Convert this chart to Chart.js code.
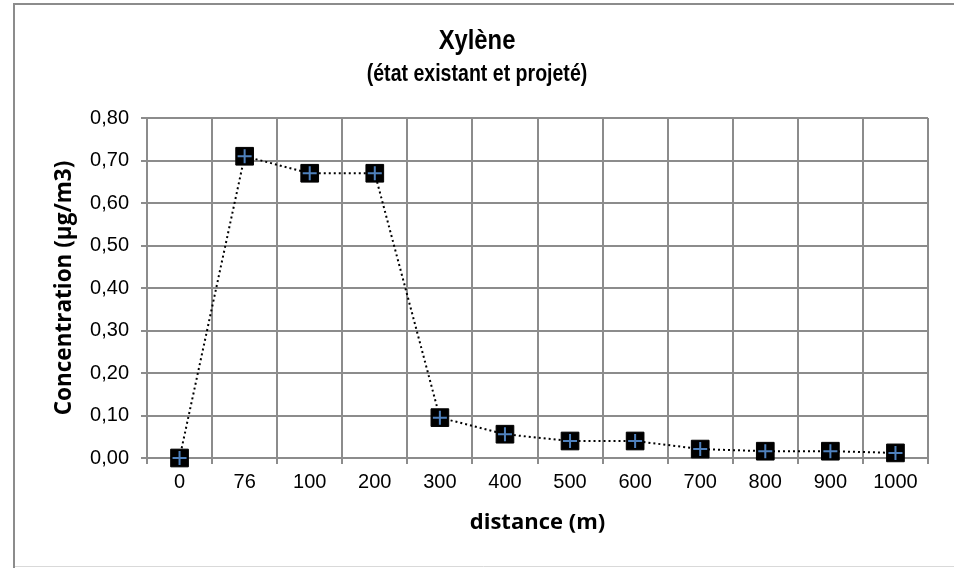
<!DOCTYPE html>
<html lang="fr">
<head>
<meta charset="utf-8">
<title>Xylène</title>
<script src="https://cdn.jsdelivr.net/npm/chart.js@4.4.1/dist/chart.umd.min.js"></script>
<style>
    html, body {
        margin: 0;
        padding: 0;
        background: #ffffff;
    }

    #wrap {
        width: 954px;
        height: 568px;
    }
</style>
</head>
<body>
<div id="wrap">
    <canvas id="xyleneChart" width="954" height="568"></canvas>
</div>

<script>

/* =========================
   DATA
========================= */

const distances = ['0', '76', '100', '200', '300', '400', '500', '600', '700', '800', '900', '1000'];

const concentrations = [0, 0.71, 0.67, 0.67, 0.095, 0.056, 0.04, 0.04, 0.021, 0.016, 0.016, 0.012];

const yTickLabels = ['0,00', '0,10', '0,20', '0,30', '0,40', '0,50', '0,60', '0,70', '0,80'];

const titleLines = ['Xylène', '(état existant et projeté)'];

const GRID_COLOR = '#8c8c8c';

/* =========================
   OUTER FRAME
========================= */

const framePlugin = {

    id: 'frame',

    beforeDraw(chart) {

        const ctx = chart.ctx;

        ctx.save();

        ctx.fillStyle = '#ffffff';
        ctx.fillRect(0, 0, chart.width, chart.height);

        ctx.strokeStyle = '#d9d9d9';
        ctx.lineWidth = 1;
        ctx.beginPath();
        ctx.moveTo(13, 566.5);
        ctx.lineTo(chart.width, 566.5);
        ctx.stroke();

        ctx.strokeStyle = GRID_COLOR;
        ctx.lineWidth = 2;
        ctx.beginPath();
        ctx.moveTo(14, chart.height);
        ctx.lineTo(14, 4);
        ctx.lineTo(chart.width, 4);
        ctx.stroke();

        ctx.restore();
    }
};

/* =========================
   NARROW TITLE (condensed look)
========================= */

const narrowTitlePlugin = {

    id: 'narrowTitle',

    afterDraw(chart) {

        const ctx = chart.ctx;
        const cx = chart.width / 2;

        const lines = [
            { text: titleLines[0], size: 28, y: 41 },
            { text: titleLines[1], size: 23, y: 75 }
        ];

        ctx.save();
        ctx.fillStyle = '#000000';
        ctx.textAlign = 'center';
        ctx.textBaseline = 'middle';

        lines.forEach(line => {
            ctx.save();
            ctx.translate(cx, line.y);
            ctx.scale(0.85, 1);
            ctx.font = `bold ${line.size}px "Liberation Sans", Arial, sans-serif`;
            ctx.fillText(line.text, 0, 0);
            ctx.restore();
        });

        ctx.restore();
    }
};

/* =========================
   CHART
========================= */

const ctx = document.getElementById('xyleneChart').getContext('2d');

new Chart(ctx, {

    type: 'line',

    data: {

        labels: distances,

        datasets: [
            {
                data: concentrations,
                order: 0,
                showLine: false,
                pointStyle: 'cross',
                pointRadius: 7,
                pointBorderColor: '#4f81bd',
                pointBorderWidth: 2,
                clip: false
            },
            {
                data: concentrations,
                order: 1,
                borderColor: '#000000',
                borderWidth: 2,
                borderDash: [2, 3],
                tension: 0,
                fill: false,
                pointStyle: 'rect',
                pointRadius: 12.5,
                pointBackgroundColor: '#000000',
                pointBorderColor: '#000000',
                pointBorderWidth: 1,
                clip: false
            }
        ]
    },

    options: {

        responsive: false,
        animation: false,
        devicePixelRatio: 1,

        layout: {
            padding: {
                left: 14,
                top: 118,
                right: 26,
                bottom: 0
            }
        },

        plugins: {

            legend: {
                display: false
            },

            tooltip: {
                enabled: false
            },

            title: {
                display: false
            }
        },

        scales: {

            x: {
                type: 'category',
                offset: true,
                afterFit(scale) {
                    scale.height = 110;
                },
                grid: {
                    offset: true,
                    color: GRID_COLOR,
                    lineWidth: 2,
                    drawTicks: true,
                    tickLength: 6
                },
                border: {
                    color: GRID_COLOR,
                    width: 2
                },
                ticks: {
                    color: '#000000',
                    padding: 6,
                    maxRotation: 0,
                    autoSkip: false,
                    font: {
                        family: '"Liberation Sans", Arial, sans-serif',
                        size: 20
                    }
                },
                title: {
                    display: true,
                    text: 'distance (m)',
                    color: '#000000',
                    font: {
                        family: '"Open Sans", sans-serif',
                        size: 22,
                        weight: 'bold'
                    },
                    padding: {
                        top: 0,
                        bottom: 32
                    }
                }
            },

            y: {
                min: 0,
                max: 0.8,
                afterFit(scale) {
                    scale.width = 133;
                },
                grid: {
                    color: GRID_COLOR,
                    lineWidth: 2,
                    drawTicks: true,
                    tickLength: 6
                },
                border: {
                    color: GRID_COLOR,
                    width: 2
                },
                ticks: {
                    stepSize: 0.1,
                    color: '#000000',
                    padding: 12,
                    font: {
                        family: '"Liberation Sans", Arial, sans-serif',
                        size: 20
                    },
                    callback: (value, index) => yTickLabels[index]
                },
                title: {
                    display: true,
                    text: 'Concentration (µg/m3)',
                    color: '#000000',
                    font: {
                        family: '"Open Sans", sans-serif',
                        size: 22.5,
                        weight: 'bold'
                    },
                    padding: {
                        top: 37,
                        bottom: 0
                    }
                }
            }
        }
    },

    plugins: [framePlugin, narrowTitlePlugin]
});

</script>
</body>
</html>
